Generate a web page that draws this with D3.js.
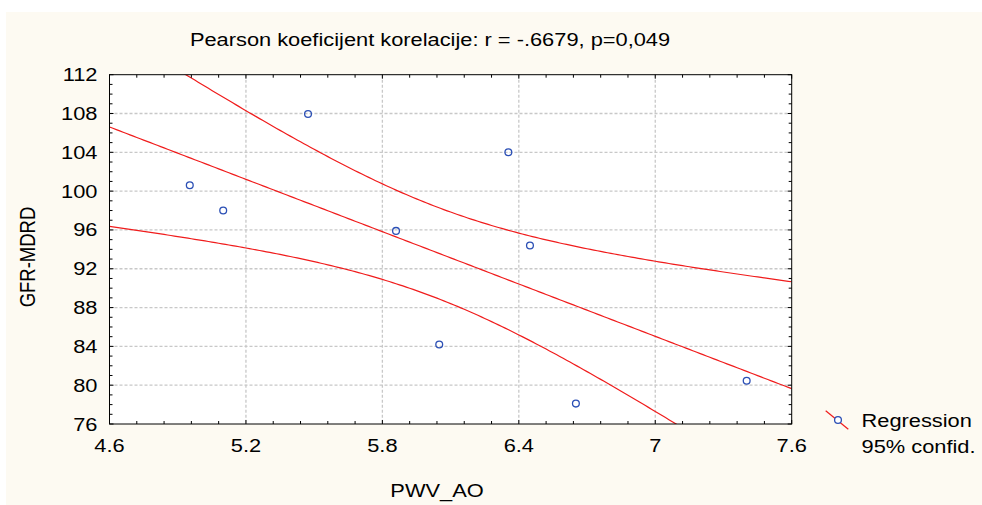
<!DOCTYPE html>
<html><head><meta charset="utf-8">
<script src="https://cdn.jsdelivr.net/npm/d3@7"></script>
<style>
html,body{margin:0;padding:0;background:#fff;}
text{font-family:"Liberation Sans",Arial,sans-serif;fill:#000;}
</style></head>
<body>
<svg id="chart" width="982" height="505"></svg>
<script>
// ---- data ----
const pwv = [4.953, 5.10, 5.473, 5.86, 6.05, 6.354, 6.449, 6.651, 7.402];
const gfr = [100.6, 98.0, 107.95, 95.9, 84.2, 104.0, 94.4, 78.1, 80.45];
const xTicks = [4.6, 5.2, 5.8, 6.4, 7.0, 7.6];
const xTickLabels = ["4.6", "5.2", "5.8", "6.4", "7", "7.6"];
const yTicks = [76, 80, 84, 88, 92, 96, 100, 104, 108, 112];
const titleText = "Pearson koeficijent korelacije: r = -.6679, p=0,049";
const xTitle = "PWV_AO";
const yTitle = "GFR-MDRD";
const legendLabels = ["Regression", "95% confid."];
const ciMult = 1.68; // band critical multiplier

// ---- layout ----
const W = 982, H = 505;
const L = 109.5, R = 791.7, T = 74.7, B = 424;
const FS = 18.5, SX = 1.18;
const svg = d3.select("#chart");

svg.append("rect").attr("x", 6).attr("y", 12).attr("width", W - 6).attr("height", H - 12).attr("fill", "#fdfaf2");

const x = d3.scaleLinear().domain([4.6, 7.6]).range([L, R]);
const y = d3.scaleLinear().domain([76, 112]).range([B, T]);

svg.append("rect").attr("x", L).attr("y", T).attr("width", R - L).attr("height", B - T).attr("fill", "#fff");

// grid
const grid = svg.append("g").attr("stroke", "#c8c8c8").attr("stroke-width", 1.3).attr("stroke-dasharray", "3,2");
grid.selectAll(".gx").data(xTicks.slice(1, -1)).join("line")
  .attr("x1", d => x(d)).attr("x2", d => x(d)).attr("y1", T).attr("y2", B);
grid.selectAll(".gy").data(yTicks.slice(1, -1)).join("line")
  .attr("y1", d => y(d)).attr("y2", d => y(d)).attr("x1", L).attr("x2", R);

// regression + confidence band
const n = pwv.length;
const mx = d3.mean(pwv), my = d3.mean(gfr);
let sxx = 0, sxy = 0, syy = 0;
for (let i = 0; i < n; i++) { const dx = pwv[i] - mx, dy = gfr[i] - my; sxx += dx * dx; sxy += dx * dy; syy += dy * dy; }
const b = sxy / sxx, a = my - b * mx;
const s = Math.sqrt((syy - sxy * sxy / sxx) / (n - 2));
const xs = d3.range(0, 201).map(i => 4.6 + 3 * i / 200);
const fit = v => a + b * v;
const hw = v => ciMult * s * Math.sqrt(1 / n + (v - mx) * (v - mx) / sxx);

svg.append("clipPath").attr("id", "clip").append("rect").attr("x", L).attr("y", T).attr("width", R - L).attr("height", B - T);
const lg = svg.append("g").attr("clip-path", "url(#clip)").attr("fill", "none").attr("stroke", "#f01c1c").attr("stroke-width", 1.2);
const line = d3.line().x(d => x(d[0])).y(d => y(d[1]));
lg.append("path").attr("d", line(xs.map(v => [v, fit(v)])));
lg.append("path").attr("d", line(xs.map(v => [v, fit(v) + hw(v)])));
lg.append("path").attr("d", line(xs.map(v => [v, fit(v) - hw(v)])));

// points
svg.append("g").selectAll("circle").data(pwv).join("circle")
  .attr("cx", (d) => x(d)).attr("cy", (d, i) => y(gfr[i])).attr("r", 3.4)
  .attr("fill", "none").attr("stroke", "#2b4fb5").attr("stroke-width", 1.3);

// frame
svg.append("rect").attr("x", L).attr("y", T).attr("width", R - L).attr("height", B - T)
  .attr("fill", "none").attr("stroke", "#000").attr("stroke-width", 1);

// ticks (inside, all four sides)
const tk = svg.append("g").attr("stroke", "#000").attr("stroke-width", 1);
const xMinor = d3.range(0, 26).map(i => 4.6 + i * 0.12);
const yMinor = d3.range(76, 113, 1);
xMinor.forEach((v, i) => {
  const len = i % 5 === 0 ? 4 : 3;
  tk.append("line").attr("x1", x(v)).attr("x2", x(v)).attr("y1", B).attr("y2", B - len);
  tk.append("line").attr("x1", x(v)).attr("x2", x(v)).attr("y1", T).attr("y2", T + len);
});
yMinor.forEach((v) => {
  const len = (v - 76) % 4 === 0 ? 4 : 3;
  tk.append("line").attr("y1", y(v)).attr("y2", y(v)).attr("x1", L).attr("x2", L + len);
  tk.append("line").attr("y1", y(v)).attr("y2", y(v)).attr("x1", R).attr("x2", R - len);
});

// text helper: stretched horizontally
function txt(px, py, str, anchor, rot) {
  const g = svg.append("g").attr("transform", `translate(${px},${py})` + (rot ? ` rotate(${rot})` : "") + (rot ? ` scale(1,${SX})` : ` scale(${SX},1)`));
  return g.append("text").attr("x", 0).attr("y", 0).attr("text-anchor", anchor).attr("font-size", FS).text(str);
}

yTicks.forEach(v => txt(97.5, y(v) + 6.5, String(v), "end"));
xTicks.forEach((v, i) => txt(x(v), 451.5, xTickLabels[i], "middle"));

txt(430, 46, titleText, "middle");
txt(437, 496.5, xTitle, "middle");
txt(35, 257, yTitle, "middle", -90);

// legend
svg.append("line").attr("x1", 825.7).attr("y1", 410.7).attr("x2", 848.3).attr("y2", 429.3)
  .attr("stroke", "#f01c1c").attr("stroke-width", 1.2);
svg.append("circle").attr("cx", 838).attr("cy", 420).attr("r", 3.4)
  .attr("fill", "#fff").attr("stroke", "#2b4fb5").attr("stroke-width", 1.3);
txt(861.5, 426.7, legendLabels[0], "start");
txt(861.5, 452.7, legendLabels[1], "start");
</script>
</body></html>
